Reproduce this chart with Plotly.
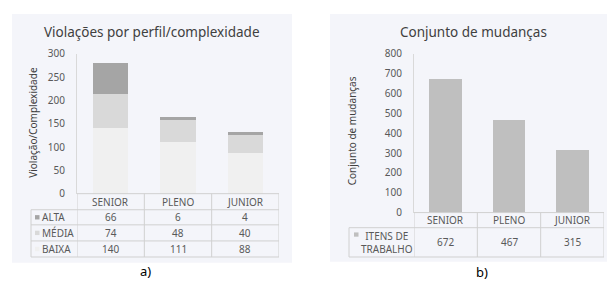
import plotly.graph_objects as go

# ---------------- data ----------------
categories = ["SENIOR", "PLENO", "JUNIOR"]
baixa = [140, 111, 88]
media = [74, 48, 40]
alta = [66, 6, 4]
itens_trabalho = [672, 467, 315]

# page is 615x289; body has default 8px margin, so the figure is 599x273
OX, OY = 8, 8
FW, FH = 599, 273
FONT = "Noto Sans"
TXT = "#595959"
GRID = "#d0d0d0"
BG = "#f4f5fa"

def py(p):  # page pixel y -> paper
    return 1 - (p - OY) / FH

def px(p):  # page pixel x -> paper
    return (p - OX) / FW

fig = go.Figure()

# ---- chart a) stacked bars ----
fig.add_trace(go.Bar(x=categories, y=baixa, name="BAIXA", marker=dict(color="#f0f0f0", line=dict(width=0)),
                     xaxis="x", yaxis="y"))
fig.add_trace(go.Bar(x=categories, y=media, name="MÉDIA", marker=dict(color="#d9d9d9", line=dict(width=0)),
                     xaxis="x", yaxis="y"))
fig.add_trace(go.Bar(x=categories, y=alta, name="ALTA", marker=dict(color="#a5a5a5", line=dict(width=0)),
                     xaxis="x", yaxis="y"))

# ---- chart b) bars ----
fig.add_trace(go.Bar(x=categories, y=itens_trabalho, name="ITENS DE TRABALHO",
                     marker=dict(color="#bfbfbf", line=dict(width=0)), xaxis="x2", yaxis="y2"))

# geometry (page pixels)
A_L, A_R, A_T, A_B = 77, 279, 48, 196
B_L, B_R, B_T, B_B = 414, 604, 48, 216

axis_common = dict(showgrid=False, zeroline=False, tickfont=dict(family=FONT, size=10, color=TXT))
fig.update_layout(
    width=FW, height=FH, margin=dict(l=0, r=0, t=0, b=0),
    paper_bgcolor="white", plot_bgcolor="rgba(0,0,0,0)",
    barmode="stack", bargap=0.48, showlegend=False,
    xaxis=dict(domain=[px(A_L), px(A_R)], anchor="y", showticklabels=False, showline=False,
               range=[-0.5, 2.5], showgrid=False, zeroline=False),
    yaxis=dict(domain=[py(A_B), py(A_T)], anchor="x", range=[0, 300], dtick=50,
               showline=True, linecolor="#d9d9d9", linewidth=1, ticks="", ticklabelstandoff=9,
               **axis_common),
    xaxis2=dict(domain=[px(B_L), px(B_R)], anchor="y2", showticklabels=False, showline=False,
                range=[-0.5, 2.5], showgrid=False, zeroline=False),
    yaxis2=dict(domain=[py(B_B), py(B_T)], anchor="x2", range=[0, 800], dtick=100,
                showline=True, linecolor="#d9d9d9", linewidth=1, ticks="", ticklabelstandoff=9,
                **axis_common),
)

shapes = []
annots = []

def ann(x, y, text, xref="paper", size=10, color=TXT, xanchor="center", **kw):
    annots.append(dict(x=x, xref=xref, y=y, yref="paper", text=text, showarrow=False,
                       xanchor=xanchor, yanchor="middle",
                       font=dict(family=FONT, size=size, color=color), **kw))

# panel backgrounds
shapes.append(dict(type="rect", xref="paper", yref="paper", x0=px(12), x1=px(292), y0=py(269), y1=py(6),
                   fillcolor=BG, line=dict(width=0), layer="below"))
shapes.append(dict(type="rect", xref="paper", yref="paper", x0=px(330), x1=px(615), y0=py(268), y1=py(6),
                   fillcolor=BG, line=dict(width=0), layer="below"))

def gline(xref, x0, x1, y0, y1):
    shapes.append(dict(type="line", xref=xref, yref="paper", x0=x0, x1=x1, y0=py(y0), y1=py(y1),
                       line=dict(color=GRID, width=1)))

# ---- table a) ----
rows_a = [("ALTA", alta, "#a5a5a5"), ("MÉDIA", media, "#d9d9d9"), ("BAIXA", baixa, "#f0f0f0")]
row_edges_a = [196, 213, 229, 246, 263]
leg_left_a = 31
gline("x", -0.5, 2.5, row_edges_a[0], row_edges_a[0])
for ye in row_edges_a[1:]:
    gline("paper", px(leg_left_a), px(A_R), ye, ye)
for i in range(len(categories) + 1):
    gline("x", i - 0.5, i - 0.5, row_edges_a[0], row_edges_a[-1])
gline("paper", px(leg_left_a), px(leg_left_a), row_edges_a[1], row_edges_a[-1])

for j, c in enumerate(categories):
    ann(c, py((row_edges_a[0] + row_edges_a[1]) / 2), c, xref="x")
for r, (name, vals, col) in enumerate(rows_a):
    ycp = (row_edges_a[r + 1] + row_edges_a[r + 2]) / 2
    yc = py(ycp)
    for j, c in enumerate(categories):
        ann(c, yc, str(vals[j]), xref="x")
    ann(px(40), yc, name, xanchor="left")
    shapes.append(dict(type="rect", xref="paper", yref="paper", x0=px(35), x1=px(39.5),
                       y0=py(ycp + 2.3), y1=py(ycp - 2.3), fillcolor=col, line=dict(width=0)))

# ---- table b) ----
row_edges_b = [216, 232, 263]
leg_left_b = 349
gline("x2", -0.5, 2.5, row_edges_b[0], row_edges_b[0])
for ye in row_edges_b[1:]:
    gline("paper", px(leg_left_b), px(B_R), ye, ye)
for i in range(len(categories) + 1):
    gline("x2", i - 0.5, i - 0.5, row_edges_b[0], row_edges_b[-1])
gline("paper", px(leg_left_b), px(leg_left_b), row_edges_b[1], row_edges_b[-1])
for j, c in enumerate(categories):
    ann(c, py((row_edges_b[0] + row_edges_b[1]) / 2), c, xref="x2")
    ann(c, py((row_edges_b[1] + row_edges_b[2]) / 2), str(itens_trabalho[j]), xref="x2")
ann(px(387), py((row_edges_b[1] + row_edges_b[2]) / 2), "ITENS DE<br>TRABALHO", align="center")
shapes.append(dict(type="rect", xref="paper", yref="paper", x0=px(354), x1=px(358.5),
                   y0=py(241.5), y1=py(237), fillcolor="#bfbfbf", line=dict(width=0)))

# titles
ann(px(152), py(25), "Violações por perfil/complexidade", size=13.5, color="#404040")
ann(px(473), py(25), "Conjunto de mudanças", size=13.5, color="#404040")
# axis titles
ann(px(33), py(121), "Violação/Complexidade", color="#404040", textangle=-90)
ann(px(352), py(130), "Conjunto de mudanças", color="#404040", textangle=-90)
# sub labels
ann(px(145), py(278), "a)", size=13, color="#000000")
ann(px(482), py(279), "b)", size=13, color="#000000")

fig.update_layout(shapes=shapes, annotations=annots)
fig.write_html("out.html", config={"displayModeBar": False})
